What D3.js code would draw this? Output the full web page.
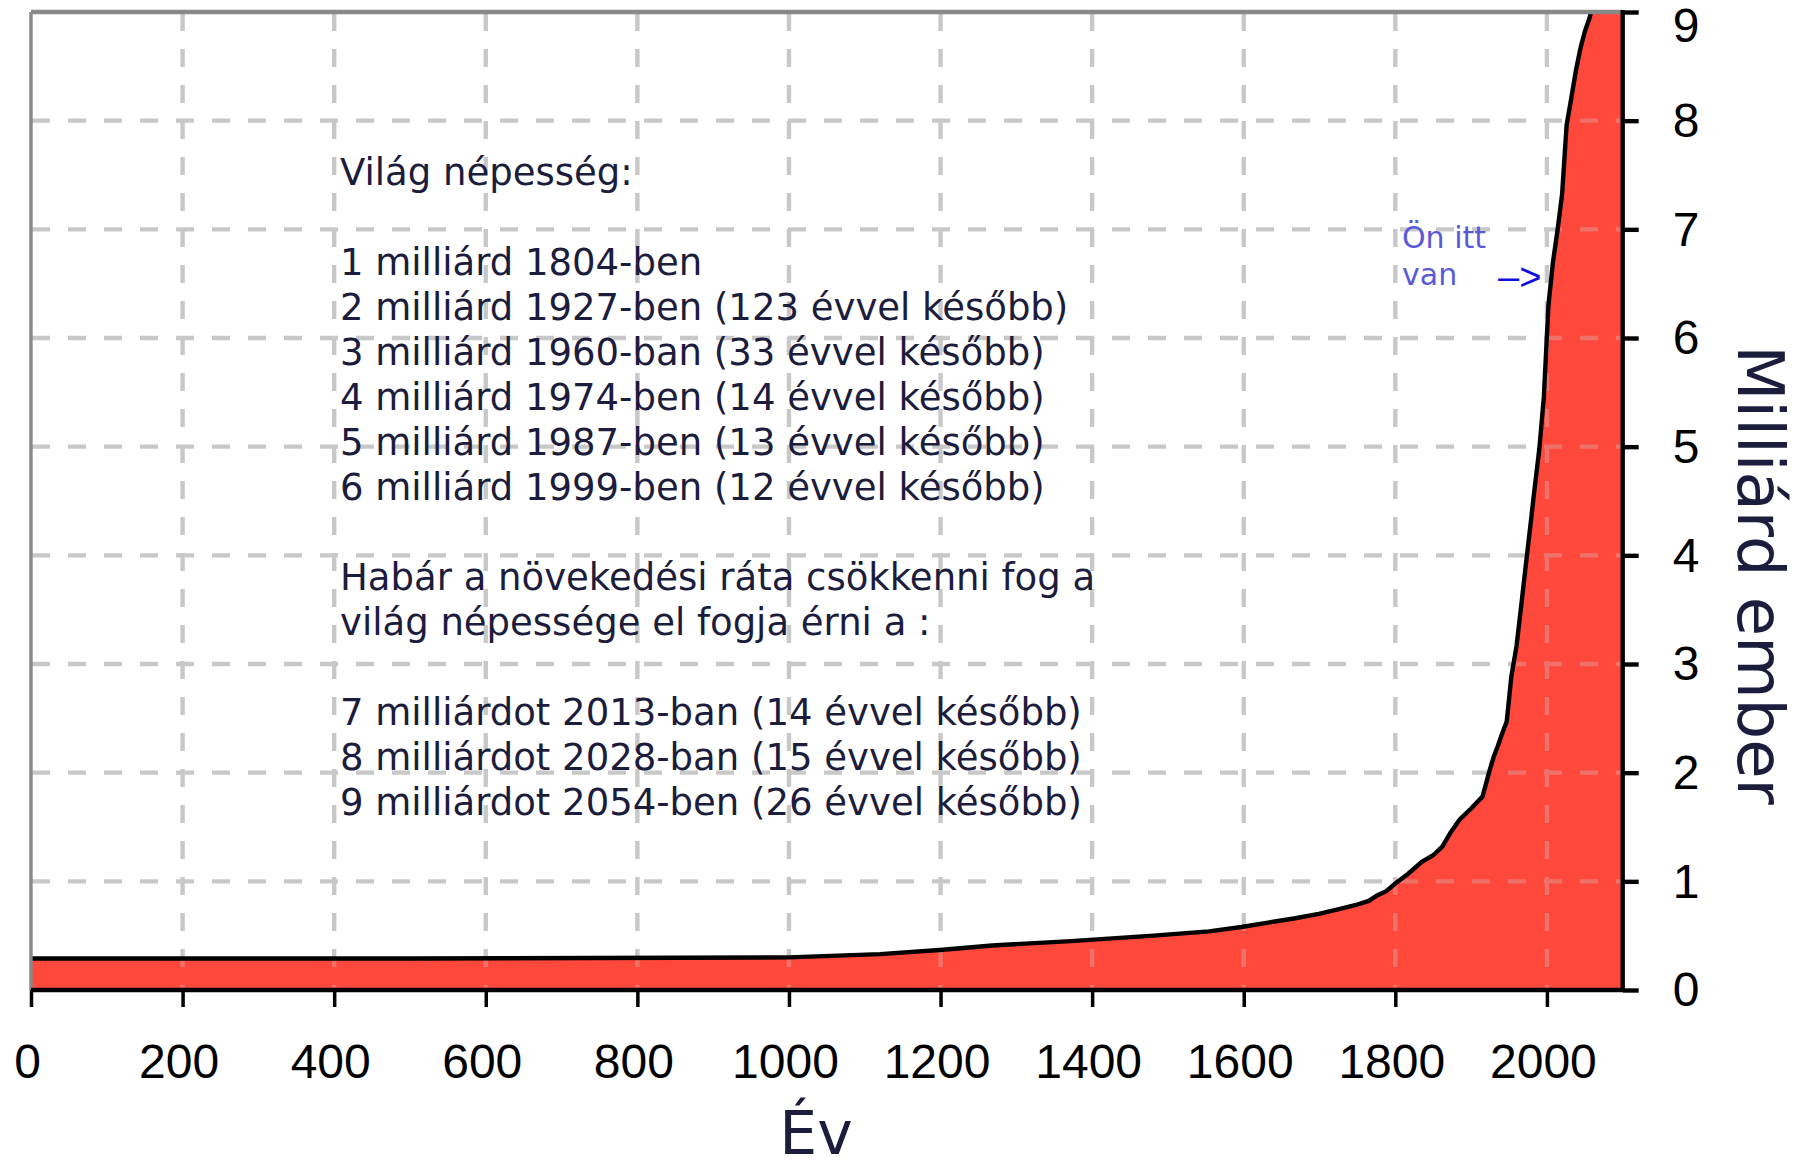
<!DOCTYPE html>
<html>
<head>
<meta charset="utf-8">
<script src="https://cdn.jsdelivr.net/npm/d3@7"></script>
<style>
  body { margin: 0; background: #ffffff; }
  svg { display: block; }
</style>
</head>
<body>
<div id="chart"></div>
<script>
// world population (billions)
const years = [0, 500, 1000, 1120, 1203, 1268, 1372, 1481, 1554, 1597,
  1632, 1668, 1699, 1723, 1747, 1765, 1776, 1788, 1800, 1817,
  1835, 1850, 1862, 1873, 1885, 1900, 1915, 1924, 1930, 1935,
  1941, 1947, 1953, 1960, 1966, 1972, 1978, 1984, 1990, 1996,
  2002, 2008, 2014, 2020, 2026, 2032, 2038, 2044, 2050, 2056,
  2062, 2100];
const population = [0.29, 0.29, 0.30, 0.33, 0.37, 0.41, 0.45, 0.50, 0.54, 0.58,
  0.62, 0.66, 0.70, 0.74, 0.78, 0.82, 0.87, 0.91, 0.98, 1.07,
  1.18, 1.24, 1.32, 1.45, 1.57, 1.67, 1.78, 2.01, 2.15, 2.24,
  2.36, 2.47, 2.88, 3.17, 3.53, 3.90, 4.26, 4.63, 4.98, 5.46,
  6.30, 6.70, 6.99, 7.32, 7.96, 8.20, 8.45, 8.66, 8.82, 8.94,
  9.10, 9.10];

const x_domain = [0, 2100];
const y_domain = [0, 9];
const x_major_ticks = [0, 200, 400, 600, 800, 1000, 1200, 1400, 1600, 1800, 2000];
const x_minor_ticks = d3.range(50, 2101, 50).filter((d) => d % 200 !== 0);
const y_ticks = [0, 1, 2, 3, 4, 5, 6, 7, 8, 9];

const x_label = "Év";
const y_label = "Milliárd ember";

const note_lines = [
  "Világ népesség:",
  "",
  "1 milliárd 1804-ben",
  "2 milliárd 1927-ben (123 évvel később)",
  "3 milliárd 1960-ban (33 évvel később)",
  "4 milliárd 1974-ben (14 évvel később)",
  "5 milliárd 1987-ben (13 évvel később)",
  "6 milliárd 1999-ben (12 évvel később)",
  "",
  "Habár a növekedési ráta csökkenni fog a",
  "világ népessége el fogja érni a :",
  "",
  "7 milliárdot 2013-ban (14 évvel később)",
  "8 milliárdot 2028-ban (15 évvel később)",
  "9 milliárdot 2054-ben (26 évvel később)"
];
const here_lines = ["Ön itt", "van"];
const here_arrow = "–>";

const width = 1798;
const height = 1173;
const plot = { left: 31, right: 1622.7, top: 12, bottom: 990 };
const px = 4.4; // thickness of one pixel of the (upscaled) original

const data = years.map((d, i) => ({ year: d, value: population[i] }));

const x = d3.scaleLinear().domain(x_domain).range([plot.left, plot.right]);
const y = d3.scaleLinear().domain(y_domain).range([plot.bottom, plot.top]);

const svg = d3
  .select("#chart")
  .append("svg")
  .attr("width", width)
  .attr("height", height);

const defs = svg.append("defs");
defs.append("clipPath")
  .attr("id", "plot-clip")
  .append("rect")
  .attr("x", plot.left)
  .attr("y", plot.top)
  .attr("width", plot.right - plot.left)
  .attr("height", plot.bottom - plot.top);

const area = d3.area()
  .x((d) => x(d.year))
  .y0(y(0))
  .y1((d) => y(d.value));

const line = d3.line()
  .x((d) => x(d.year))
  .y((d) => y(d.value));

defs.append("clipPath")
  .attr("id", "area-clip")
  .append("path")
  .attr("d", area(data));

// dashed grid, drawn once grey and once tinted over the red area
function draw_grid(parent, color) {
  const g = parent.append("g")
    .attr("stroke", color)
    .attr("stroke-width", px)
    .attr("stroke-dasharray", "18,18")
    .attr("fill", "none");
  g.selectAll(".v-grid")
    .data(x_major_ticks.filter((d) => d > 0))
    .enter()
    .append("line")
    .attr("x1", (d) => x(d))
    .attr("x2", (d) => x(d))
    .attr("y1", plot.top + 1)
    .attr("y2", plot.bottom);
  g.selectAll(".h-grid")
    .data(y_ticks.filter((d) => d > 0 && d < 9))
    .enter()
    .append("line")
    .attr("x1", plot.left + 1)
    .attr("x2", plot.right)
    .attr("y1", (d) => y(d))
    .attr("y2", (d) => y(d));
  return g;
}

draw_grid(svg, "#c8c8c8");

svg.append("path")
  .datum(data)
  .attr("clip-path", "url(#plot-clip)")
  .attr("fill", "#ff483c")
  .attr("d", area);

draw_grid(svg, "#f0716a").attr("clip-path", "url(#area-clip)");

svg.append("g")
  .attr("clip-path", "url(#plot-clip)")
  .append("path")
  .datum(data)
  .attr("fill", "none")
  .attr("stroke", "#000000")
  .attr("stroke-width", px)
  .attr("d", line);

// frame: grey left/top, black bottom/right
svg.append("line")
  .attr("x1", plot.left).attr("x2", plot.left)
  .attr("y1", plot.top).attr("y2", plot.bottom)
  .attr("stroke", "#888888").attr("stroke-width", px - 1);
svg.append("line")
  .attr("x1", plot.left).attr("x2", plot.right)
  .attr("y1", plot.top).attr("y2", plot.top)
  .attr("stroke", "#888888").attr("stroke-width", px);

// x axis
const x_axis = svg.append("g").attr("transform", `translate(0,${plot.bottom})`);
x_axis.call(d3.axisBottom(x).tickValues(x_minor_ticks).tickSize(12).tickFormat(""));
x_axis.call(d3.axisBottom(x).tickValues(x_major_ticks).tickSize(17).tickFormat(d3.format("d")));
x_axis.selectAll(".domain").remove();
x_axis.selectAll(".tick line").attr("stroke", "#000").attr("stroke-width", 3.5);
x_axis.selectAll(".tick text")
  .attr("y", 88)
  .attr("dy", 0)
  .attr("dx", -4)
  .attr("fill", "#000")
  .style("font-family", "'Liberation Sans', Arial, sans-serif")
  .style("font-size", "48px");

// y axis on the right
const y_axis = svg.append("g").attr("transform", `translate(${plot.right},0)`);
y_axis.call(d3.axisRight(y).tickValues(y_ticks).tickSize(16).tickPadding(34).tickFormat(d3.format("d")));
y_axis.selectAll(".domain").remove();
y_axis.selectAll(".tick line").attr("stroke", "#000").attr("stroke-width", px);
y_axis.selectAll(".tick text")
  .attr("dy", (d) => (d === 9 ? "0.62em" : "0.33em")) // top label pushed into view
  .attr("fill", "#000")
  .style("font-family", "'Liberation Sans', Arial, sans-serif")
  .style("font-size", "48px");

svg.append("line")
  .attr("x1", plot.left).attr("x2", plot.right)
  .attr("y1", plot.bottom).attr("y2", plot.bottom)
  .attr("stroke", "#000").attr("stroke-width", px);
svg.append("line")
  .attr("x1", plot.right).attr("x2", plot.right)
  .attr("y1", plot.top - 2).attr("y2", plot.bottom + 2)
  .attr("stroke", "#000").attr("stroke-width", px);

// axis titles
svg.append("text")
  .attr("x", 816)
  .attr("y", 1154)
  .attr("text-anchor", "middle")
  .attr("fill", "#1c1c3c")
  .style("font-family", "'DejaVu Sans', sans-serif")
  .style("font-size", "60px")
  .text(x_label);

svg.append("text")
  .attr("transform", "translate(1738,575) rotate(90)")
  .attr("text-anchor", "middle")
  .attr("fill", "#1c1c3c")
  .style("font-family", "'DejaVu Sans', sans-serif")
  .style("font-size", "64px")
  .text(y_label);

// text block inside the plot
svg.append("g")
  .selectAll("text")
  .data(note_lines)
  .enter()
  .append("text")
  .attr("x", 340)
  .attr("y", (d, i) => 185 + i * 45)
  .attr("fill", "#1c1c3c")
  .style("font-family", "'DejaVu Sans', sans-serif")
  .style("font-size", "37px")
  .text((d) => d);

// "you are here" marker
svg.append("g")
  .selectAll("text")
  .data(here_lines)
  .enter()
  .append("text")
  .attr("x", 1402)
  .attr("y", (d, i) => 248 + i * 37)
  .attr("fill", "#5a5ad8")
  .style("font-family", "'DejaVu Sans', sans-serif")
  .style("font-size", "30px")
  .text((d) => d);

svg.append("text")
  .attr("x", 1498)
  .attr("y", 290)
  .attr("fill", "#1010e0")
  .style("font-family", "'Liberation Sans', Arial, sans-serif")
  .style("font-size", "38px")
  .text(here_arrow);
</script>
</body>
</html>
